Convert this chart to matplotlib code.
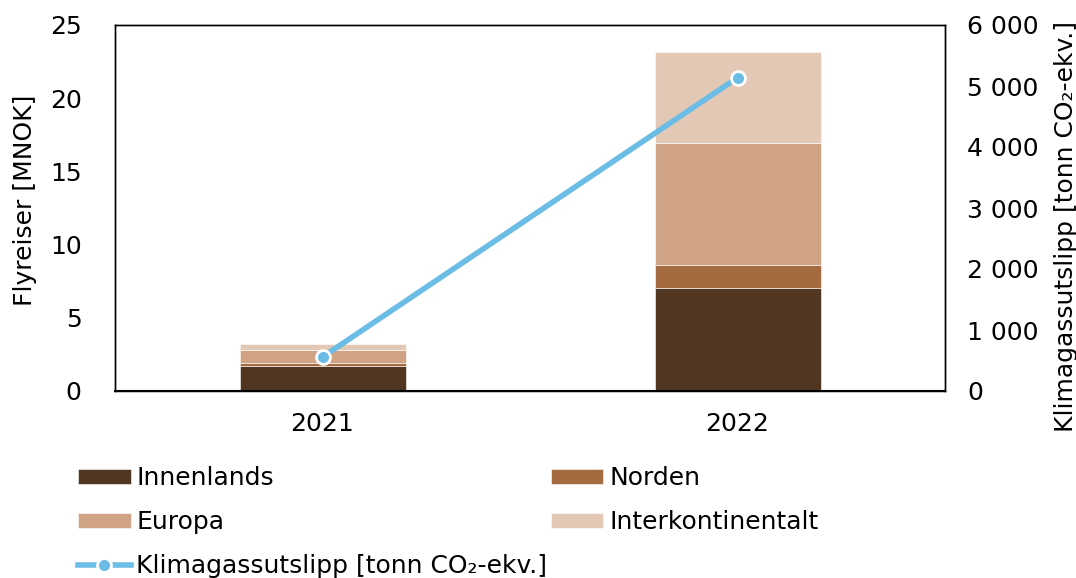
import matplotlib.pyplot as plt
import numpy as np

years = ["2021", "2022"]
innenlands = [1.73, 7.01]
norden = [0.20, 1.59]
europa = [0.87, 8.36]
interkontinentalt = [0.41, 6.22]
utslipp = [557, 5136]

colors = {
    "Innenlands": "#513721",
    "Norden": "#A36B3F",
    "Europa": "#D0A385",
    "Interkontinentalt": "#E2C8B5",
}

plt.rcParams["font.family"] = ["DejaVu Sans"]
plt.rcParams["font.size"] = 18

fig = plt.figure(figsize=(10.76, 5.78), dpi=100)
ax = fig.add_axes([115 / 1076, 1 - 391 / 578, 830 / 1076, 366 / 578])
ax2 = ax.twinx()

x = np.arange(len(years))
bottom = np.zeros(len(years))
bars = {}
for name, vals in [("Innenlands", innenlands), ("Norden", norden),
                   ("Europa", europa), ("Interkontinentalt", interkontinentalt)]:
    bars[name] = ax.bar(x, vals, 0.4, bottom=bottom, color=colors[name],
                        edgecolor="white", linewidth=0.4, label=name, zorder=2)
    bottom += np.array(vals)

line, = ax2.plot(x, utslipp, color="#6CBDE6", lw=4, marker="o", ms=10,
                 mfc="#6CBDE6", mec="white", mew=2,
                 label="Klimagassutslipp [tonn CO\u2082-ekv.]", zorder=3)

ax.set_xlim(-0.5, 1.5)
ax.set_ylim(0, 25)
ax.set_yticks(range(0, 26, 5))
ax2.set_ylim(0, 6000)
ax2.set_yticks(range(0, 6001, 1000))
ax2.set_yticklabels([f"{v:,}".replace(",", " ") for v in range(0, 6001, 1000)])
ax.set_xticks(x)
ax.set_xticklabels(years)

ax.set_ylabel("Flyreiser [MNOK]")
ax2.set_ylabel("Klimagassutslipp [tonn CO\u2082-ekv.]")
ax.yaxis.set_label_coords(-0.094, 0.522)
ax2.yaxis.set_label_coords(1.131, 0.45)

ax.tick_params(axis="y", length=0, pad=24)
ax.tick_params(axis="x", length=0, pad=15)
ax2.tick_params(axis="y", length=0, pad=16)
for a in (ax, ax2):
    for s in a.spines.values():
        s.set_linewidth(1)
        s.set_color("black")
ax.spines["bottom"].set_linewidth(1.5)

handles = [bars["Innenlands"], bars["Europa"], line,
           bars["Norden"], bars["Interkontinentalt"]]
labels = [h.get_label() for h in handles]
fig.legend(handles, labels, ncol=2, loc="upper left",
           bbox_to_anchor=(78 / 1076, 1 - 466 / 578), frameon=False,
           borderaxespad=0, borderpad=0,
           handlelength=2.1, handleheight=0.56, handletextpad=0.24,
           columnspacing=0.12, labelspacing=0.8)

fig.savefig("out.png", dpi=100)
